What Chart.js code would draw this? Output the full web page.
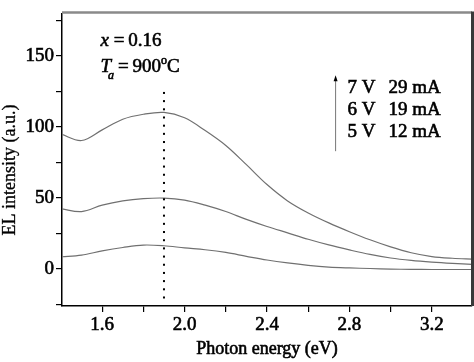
<!DOCTYPE html>
<html>
<head>
<meta charset="utf-8">
<script src="https://cdn.jsdelivr.net/npm/chart.js@4/dist/chart.umd.min.js"></script>
<style>
  html, body { margin: 0; padding: 0; background: #fff; }
</style>
</head>
<body>
<canvas id="myChart" width="474" height="362"></canvas>
<script>
// photon energy (eV)
var energy = [1.4, 1.5, 1.6, 1.7, 1.8, 1.9, 2.0, 2.1, 2.2, 2.3, 2.4,
              2.5, 2.6, 2.7, 2.8, 2.9, 3.0, 3.1, 3.2, 3.3, 3.4];
// EL intensity (a.u.)
var el7V = [95, 90.5, 98, 105.5, 109, 110.3, 106.5, 97.5, 87, 73.5, 59.5,
            48, 39.5, 32.5, 26.3, 20.6, 15.6, 11.5, 8.8, 7.6, 7];
var el6V = [42.5, 40.5, 45, 48, 49.6, 50, 48.6, 45, 40.5, 35, 30,
            25.5, 21, 17, 13.5, 10.3, 7.8, 6.1, 4.9, 4, 3.3];
var el5V = [8.6, 9.8, 12.8, 15.2, 16.9, 16.4, 14.9, 13.6, 11.7, 9, 6.4,
            4.3, 2.6, 1.4, 0.8, 0.4, 0, -0.2, -0.3, -0.3, -0.3];

var xTicks = [1.6, 1.8, 2.0, 2.2, 2.4, 2.6, 2.8, 3.0, 3.2];
var yTicks = [-25, 0, 25, 50, 75, 100, 125, 150, 175];
var peakEnergy = 1.9;
var legendRows = [['7 V', '29 mA'], ['6 V', '19 mA'], ['5 V', '12 mA']];

var serif = '"Liberation Serif", "Times New Roman", serif';

function pts(ys) {
    return energy.map(function (x, i) { return { x: x, y: ys[i] }; });
}

function lineSet(label, ys) {
    return {
        label: label,
        data: pts(ys),
        borderColor: '#707070',
        borderWidth: 1.2,
        pointRadius: 0,
        fill: false,
        tension: 0.35
    };
}

// text with a thin stroke so it looks as heavy as the scanned figure
function heavyText(c, s, x, y) {
    c.fillText(s, x, y);
    c.strokeText(s, x, y);
}

var overlay = {
    id: 'overlay',
    afterDraw: function (chart) {
        var c = chart.ctx, a = chart.chartArea;
        var xs = chart.scales.x, ys = chart.scales.y;
        c.save();

        // frame: top and right
        c.strokeStyle = '#8a8a8a';
        c.lineWidth = 2.5;
        c.beginPath(); c.moveTo(a.left, a.top - 1); c.lineTo(a.right, a.top - 1); c.stroke();
        c.strokeStyle = '#3a3a3a';
        c.lineWidth = 3;
        c.beginPath(); c.moveTo(a.right + 0.5, a.top - 2); c.lineTo(a.right + 0.5, a.bottom); c.stroke();

        // dotted line at peak
        var px = xs.getPixelForValue(peakEnergy);
        var t = ys.getPixelForValue(124), b = ys.getPixelForValue(-20);
        var n = Math.round((b - t) / 8.3);
        c.fillStyle = '#000';
        for (var i = 0; i <= n; i++) {
            var py = t + (b - t) * i / n;
            c.fillRect(px - 1, py - 1, 2, 2);
        }

        // annotation text
        c.fillStyle = '#000';
        c.strokeStyle = '#000';
        c.lineWidth = 0.6;
        c.textBaseline = 'alphabetic';
        c.textAlign = 'left';
        var x0 = xs.getPixelForValue(1.592);
        var y1 = ys.getPixelForValue(157);
        c.font = 'italic 19px ' + serif;
        heavyText(c, 'x', x0, y1);
        var w = c.measureText('x').width;
        c.font = '19px ' + serif;
        heavyText(c, '\u2009=\u20090.16', x0 + w + 1, y1);

        var y2 = ys.getPixelForValue(139);
        c.font = 'italic 19px ' + serif;
        heavyText(c, 'T', x0, y2);
        w = c.measureText('T').width;
        c.font = 'italic 12px ' + serif;
        heavyText(c, 'a', x0 + w - 3, y2 + 7);
        var xx = x0 + w + 3;
        c.font = '19px ' + serif;
        heavyText(c, '\u2009=\u2009900', xx, y2);
        xx += c.measureText('\u2009=\u2009900').width;
        c.font = '12px ' + serif;
        heavyText(c, 'o', xx, y2 - 8);
        xx += c.measureText('o').width;
        c.font = '19px ' + serif;
        heavyText(c, 'C', xx, y2);

        // voltage / current list with arrow
        var ax = xs.getPixelForValue(2.733);
        var aTop = ys.getPixelForValue(136.5), aBot = ys.getPixelForValue(83);
        c.strokeStyle = '#777';
        c.lineWidth = 1;
        c.beginPath(); c.moveTo(ax, aTop + 3); c.lineTo(ax, aBot); c.stroke();
        c.beginPath(); c.moveTo(ax, aTop); c.lineTo(ax - 2, aTop + 6); c.lineTo(ax + 2, aTop + 6); c.closePath(); c.fill();

        c.strokeStyle = '#000';
        c.lineWidth = 0.6;
        c.font = '19px ' + serif;
        var lx = xs.getPixelForValue(2.791), rx = xs.getPixelForValue(2.99);
        var rowVals = [124, 108.3, 93];
        legendRows.forEach(function (r, k) {
            var yy = ys.getPixelForValue(rowVals[k]);
            heavyText(c, r[0], lx, yy);
            heavyText(c, r[1], rx, yy);
        });

        // axis titles
        c.textAlign = 'center';
        c.font = '18px ' + serif;
        heavyText(c, 'Photon energy (eV)', 267, 354);
        c.lineWidth = 0.3;
        c.translate(15, 170);
        c.rotate(-Math.PI / 2);
        heavyText(c, 'EL intensity (a.u.)', 0, 0);
        c.restore();
    }
};

var tickFont = { family: serif, size: 19 };

var ctx = document.getElementById('myChart').getContext('2d');
var myChart = new Chart(ctx, {
    type: 'line',
    data: {
        datasets: [
            lineSet('7 V', el7V),
            lineSet('6 V', el6V),
            lineSet('5 V', el5V)
        ]
    },
    options: {
        responsive: false,
        animation: false,
        layout: { padding: { top: 3, right: 2, left: 0, bottom: 0 } },
        plugins: {
            legend: { display: false },
            tooltip: { enabled: false }
        },
        scales: {
            x: {
                type: 'linear',
                min: 1.405,
                max: 3.395,
                afterFit: function (s) { s.height = 56; },
                afterBuildTicks: function (s) {
                    s.ticks = xTicks.map(function (v) { return { value: v }; });
                },
                grid: { drawOnChartArea: false, drawTicks: true, tickLength: 6, color: '#000', lineWidth: 1.2 },
                border: { color: '#000', width: 1.5 },
                ticks: {
                    color: '#000',
                    textStrokeColor: '#000',
                    textStrokeWidth: 0.6,
                    padding: 2,
                    maxRotation: 0,
                    autoSkip: false,
                    font: tickFont,
                    callback: function (v) {
                        return Math.abs(Math.round(v * 10) % 4) < 0.01 ? v.toFixed(1) : '';
                    }
                }
            },
            y: {
                min: -26,
                max: 180,
                afterFit: function (s) { s.width = 62; },
                afterBuildTicks: function (s) {
                    s.ticks = yTicks.map(function (v) { return { value: v }; });
                },
                grid: { drawOnChartArea: false, drawTicks: true, tickLength: 6, color: '#000', lineWidth: 1.2 },
                border: { color: '#000', width: 1.5 },
                ticks: {
                    color: '#000',
                    textStrokeColor: '#000',
                    textStrokeWidth: 0.6,
                    padding: 2,
                    autoSkip: false,
                    font: tickFont,
                    callback: function (v) { return v % 50 === 0 ? String(v) : ''; }
                }
            }
        }
    },
    plugins: [overlay]
});
</script>
</body>
</html>
